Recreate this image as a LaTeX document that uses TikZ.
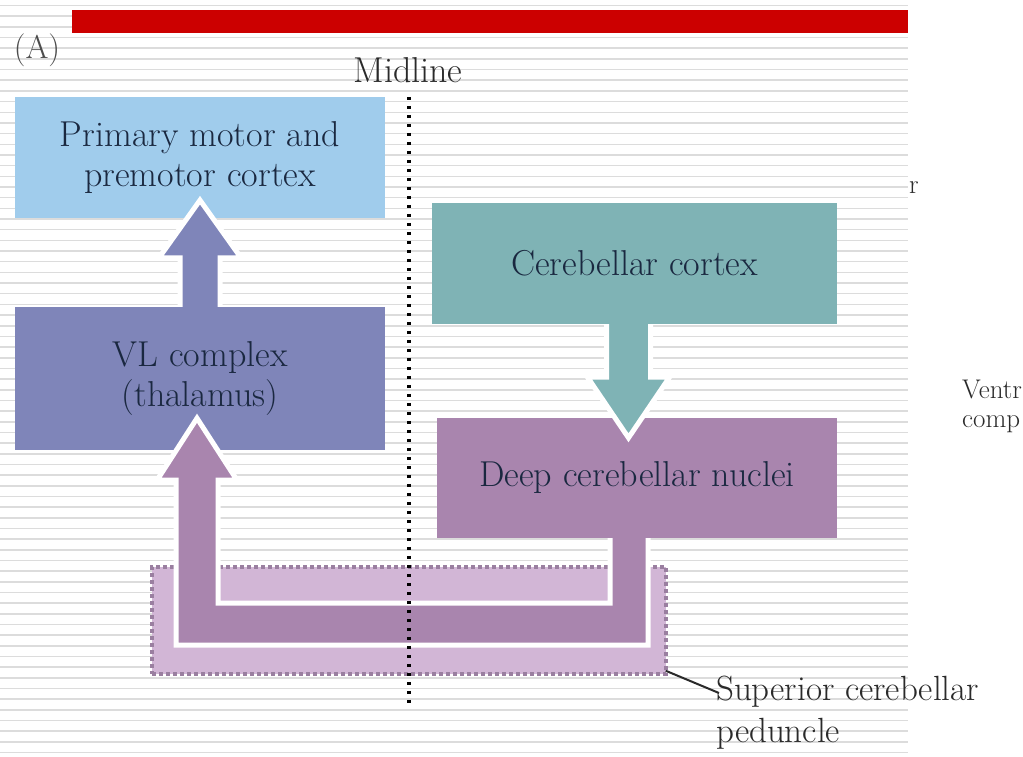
\documentclass[tikz,border=0pt]{standalone}
\usepackage{xcolor}
\usepackage{tikz}
\usetikzlibrary{calc}

\definecolor{redbar}{HTML}{CC0000}
\definecolor{motorblue}{HTML}{A0CCEC}
\definecolor{vlblue}{HTML}{7F85B9}
\definecolor{cortexteal}{HTML}{7FB3B5}
\definecolor{deeppurple}{HTML}{A985AE}
\definecolor{scpfill}{HTML}{D2B6D6}
\definecolor{scpedge}{HTML}{9A7FA0}
\definecolor{stripegray}{HTML}{DCDCDC}
\definecolor{inktext}{HTML}{1A2840}
\definecolor{labelgray}{HTML}{2A2A2A}

\begin{document}
\begin{tikzpicture}[x=1pt,y=-1pt,
  box/.style={inner sep=0pt,align=center,font=\fontsize{36}{40}\selectfont,text=inktext},
  blockarrow/.style={draw=white,line width=5pt},
  stripe/.style={stripegray,line width=1.6pt},
  midline/.style={black,line width=4.5pt,dash pattern=on 3.5pt off 5.5pt},
  lbl/.style={inner sep=0pt,text=labelgray}]
\fill[white] (0,0) rectangle (1023,756);
\useasboundingbox (0,0) rectangle (1023,756);
% striped page
\foreach \i in {0,...,70}
  \draw[stripe] (0,5.6+\i*10.67) -- (908,5.6+\i*10.67);
\fill[redbar] (72,10) rectangle (908,33);
\node[lbl,font=\fontsize{33}{36}\selectfont,text=gray!60!black] (panel) at (37,50) {(A)};
\node[lbl,font=\fontsize{36}{40}\selectfont] (midtext) at (408,70) {Midline};

% boxes
\node[box,fill=motorblue,minimum width=370,minimum height=121] (motor) at (200,157.5) {Primary motor and\\premotor cortex};
\node[box,fill=vlblue,minimum width=370,minimum height=143] (vl) at (200,378.5) {VL complex\\(thalamus)};
\node[box,fill=cortexteal,minimum width=405,minimum height=121] (cortex) at (634.5,263.5) {Cerebellar cortex};
\node[box,fill=deeppurple,minimum width=400,minimum height=120] (deep) at (637,478) {Deep cerebellar nuclei};
\node[draw=scpedge,fill=scpfill,line width=3.5pt,dash pattern=on 4pt off 3pt,minimum width=514,minimum height=107] (scp) at (409,620.5) {};

% arrows
\filldraw[blockarrow,fill=vlblue] ($(vl.north)+(20,0)$) -- ++(0,-49) -- ++(21,0)
  -- ($(motor.south)+(0,-18)$) -- ($(vl.north)+(-41,-49)$) -- ++(21,0) -- ($(vl.north)+(-20,0)$);
\coordinate (dtop) at ($(cortex.south)+(-6,0)$);
\filldraw[blockarrow,fill=cortexteal] ($(dtop)+(-22,0)$) -- ++(0,53) -- ++(-19,0)
  -- ($(dtop |- deep.north)+(0,20)$) -- ($(dtop)+(41,53)$) -- ++(-19,0) -- ($(dtop)+(22,0)$);
\coordinate (ustart) at ($(deep.south)+(-8,0)$);
\coordinate (uend) at ($(vl.south)+(-3,0)$);
\filldraw[blockarrow,fill=deeppurple] ($(ustart)+(19,0)$) -- ($(ustart)+(19,107)$)
  -- ($(uend)+(-21,195)$) -- ($(uend)+(-21,30)$) -- ($(uend)+(-40,30)$)
  -- ($(uend)+(0,-32)$) -- ($(uend)+(40,30)$) -- ($(uend)+(21,30)$)
  -- ($(uend)+(21,153)$) -- ($(ustart)+(-19,65)$) -- ($(ustart)+(-19,0)$);

% midline
\coordinate (midbot) at (409,704);
\draw[midline] ($(midtext.south)+(1,14)$) -- (midbot);

% peduncle label
\node[lbl,anchor=north west,align=left,font=\fontsize{35}{42}\selectfont] (scplabel) at (716,676) {Superior cerebellar\\peduncle};
\coordinate (lead) at ($(scplabel.north west)+(3,17)$);
\draw[labelgray,line width=2pt] ($(scp.south east)+(-2,-5)$) -- (lead);

% clipped side text
\node[lbl,anchor=base west,font=\fontsize{27}{30}\selectfont] (fragr) at (909,193) {r};
\node[lbl,anchor=base west,font=\fontsize{27}{30}\selectfont] (fragv) at (962,398) {Ventr};
\node[lbl,anchor=base west,font=\fontsize{27}{30}\selectfont] (fragc) at (962,427) {comp};
\end{tikzpicture}
\end{document}
